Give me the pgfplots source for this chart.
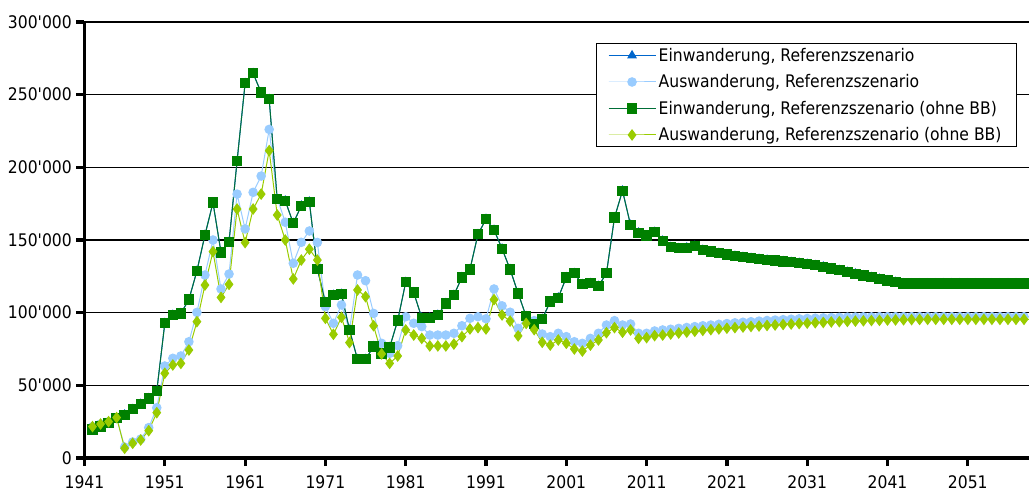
\documentclass[border=0pt]{standalone}
\usepackage{fontspec}
\usepackage{pgfplots}
\usepackage{pgfplotstable}
\pgfplotsset{compat=1.18}
\newfontfamily\chartfont{DejaVu Sans Condensed}
\newcommand{\cf}{\chartfont\fontsize{13}{15}\selectfont}
\definecolor{cE}{RGB}{0,102,204}
\definecolor{cA}{RGB}{153,204,255}
\definecolor{cG}{RGB}{0,128,0}
\definecolor{cGl}{RGB}{0,110,55}
\definecolor{cD}{RGB}{153,204,0}
\pgfplotstableread{
year E A D
1942 19500 21600 21600
1943 21600 23400 23400
1944 24300 25000 25000
1945 27300 27800 27800
1946 29800 7500 6700
1947 33500 11000 10100
1948 37200 13000 12400
1949 41000 20900 18800
1950 46100 34600 31200
1951 92700 63300 58300
1952 98400 68600 64000
1953 99500 70200 65100
1954 109000 80000 74300
1955 128700 100200 93800
1956 153400 125900 119000
1957 175700 150000 142000
1958 141500 116300 110500
1959 148800 126600 119500
1960 204300 181600 171300
1961 257800 157600 148200
1962 264700 182800 171300
1963 251400 194000 181600
1964 246800 226100 211500
1965 178000 178700 167200
1966 177000 162200 150000
1967 161500 134000 123200
1968 173600 148400 136200
1969 176300 156200 143700
1970 130000 148300 136200
1971 107200 104100 96100
1972 112100 92700 85100
1973 112800 105300 96800
1974 88100 88000 79400
1975 67900 125900 115600
1976 67900 122000 111000
1977 76800 99500 91000
1978 72000 78900 71600
1979 76100 72000 65100
1980 94500 77300 70200
1981 120900 97200 88100
1982 113800 92700 84600
1983 96500 90400 82300
1984 96500 84600 77100
1985 98400 84600 77100
1986 106400 84600 77100
1987 112100 85800 78400
1988 124300 91000 83500
1989 129800 96100 88800
1990 153900 97200 89700
1991 164400 95800 88800
1992 156900 116300 109000
1993 144000 104700 98400
1994 129800 100300 94200
1995 113300 89200 84000
1996 97500 97500 92600
1997 92200 94500 88300
1998 95600 85300 79600
1999 107600 83500 77700
2000 110300 85800 81200
2001 124300 83500 78900
2002 127100 80000 75000
2003 119500 78900 73600
2004 120200 82300 77700
2005 118300 85800 81200
2006 127100 91500 86200
2007 165400 94500 89700
2008 183900 91500 86500
2009 160300 92200 88100
2010 155000 85800 82300
2011 153000 85800 82800
2012 155500 87400 84200
2013 149400 88100 84600
2014 145000 88600 85300
2015 144300 89200 86000
2016 144700 89800 86600
2017 145900 90400 87200
2018 143100 91000 87800
2019 142000 91500 88300
2020 141000 92000 88800
2021 140000 92500 89300
2022 139000 93000 89700
2023 138200 93400 90100
2024 137500 93800 90500
2025 136900 94200 90800
2026 136300 94600 91200
2027 135800 94900 91500
2028 135300 95200 91900
2029 134800 95500 92200
2030 134200 95800 92500
2031 133500 96000 92800
2032 132600 96200 93100
2033 131600 96400 93300
2034 130400 96600 93600
2035 129200 96800 93800
2036 128000 96900 94000
2037 126800 97000 94200
2038 125600 97100 94400
2039 124400 97100 94600
2040 123200 97200 94700
2041 122100 97200 94900
2042 121000 97200 95000
2043 120100 97200 95100
2044 120000 97200 95200
2045 120000 97200 95300
2046 120000 97200 95400
2047 120000 97200 95400
2048 120000 97200 95400
2049 120000 97200 95400
2050 120000 97200 95400
2051 120000 97200 95400
2052 120000 97200 95400
2053 120000 97200 95400
2054 120000 97200 95400
2055 120000 97200 95400
2056 120000 97200 95400
2057 120000 97200 95400
2058 120000 97200 95400
2059 120000 97200 95400
2060 120000 97200 95400
}\datatable
\begin{document}
\begin{tikzpicture}[font=\cf]
\begin{axis}[
  scale only axis,
  width=708.375pt, height=327pt,
  xmin=1941, xmax=2058.62,
  ymin=0, ymax=300000,
  scaled y ticks=false,
  axis x line*=bottom, axis y line*=left,
  axis line style={line width=2.4pt,-},
  xtick={1941,1951,1961,1971,1981,1991,2001,2011,2021,2031,2041,2051},
  xticklabels={1941,1951,1961,1971,1981,1991,2001,2011,2021,2031,2041,2051},
  ytick={0,50000,100000,150000,200000,250000,300000},
  yticklabels={0,50\textquotesingle000,100\textquotesingle000,150\textquotesingle000,200\textquotesingle000,250\textquotesingle000,300\textquotesingle000},
  tick align=outside,
  major tick length=6pt,
  tick style={line width=2.4pt,black},
  every tick label/.append style={font=\cf},
  xticklabel style={yshift=-4pt},
  ymajorgrids,
  grid style={line width=1pt,black},
  legend style={at={(0.987,0.951)},anchor=north east,draw=black,line width=0.8pt,fill=white,
    font=\cf,row sep=4.5pt,inner xsep=9pt,inner ysep=1pt,cells={anchor=west}},
  legend image code/.code={\draw[mark repeat=2,mark phase=2] plot coordinates {(0cm,0cm) (0.62cm,0cm) (1.24cm,0cm)};},
]
\addplot[color=cE,line width=0.75pt,mark=triangle*,mark size=3.5pt,mark options={fill=cE,draw=cE}] table[x=year,y=E]{\datatable};
\addlegendentry{Einwanderung, Referenzszenario}
\addplot[color=cA,line width=0.75pt,mark=*,mark size=3.2pt,mark options={fill=cA,draw=cA}] table[x=year,y=A]{\datatable};
\addlegendentry{Auswanderung, Referenzszenario}
\addplot[color=cGl,line width=0.75pt,mark=square*,mark size=3.5pt,mark options={fill=cG,draw=cG}] table[x=year,y=E]{\datatable};
\addlegendentry{Einwanderung, Referenzszenario (ohne BB)}
\addplot[color=cD,line width=0.75pt,mark=diamond*,mark size=3.8pt,mark options={fill=cD,draw=cD}] table[x=year,y=D]{\datatable};
\addlegendentry{Auswanderung, Referenzszenario (ohne BB)}
\end{axis}
\pgfresetboundingbox
\path[use as bounding box] (-63.375pt,-26.25pt) rectangle (708.375pt,343.5pt);
\end{tikzpicture}
\end{document}
